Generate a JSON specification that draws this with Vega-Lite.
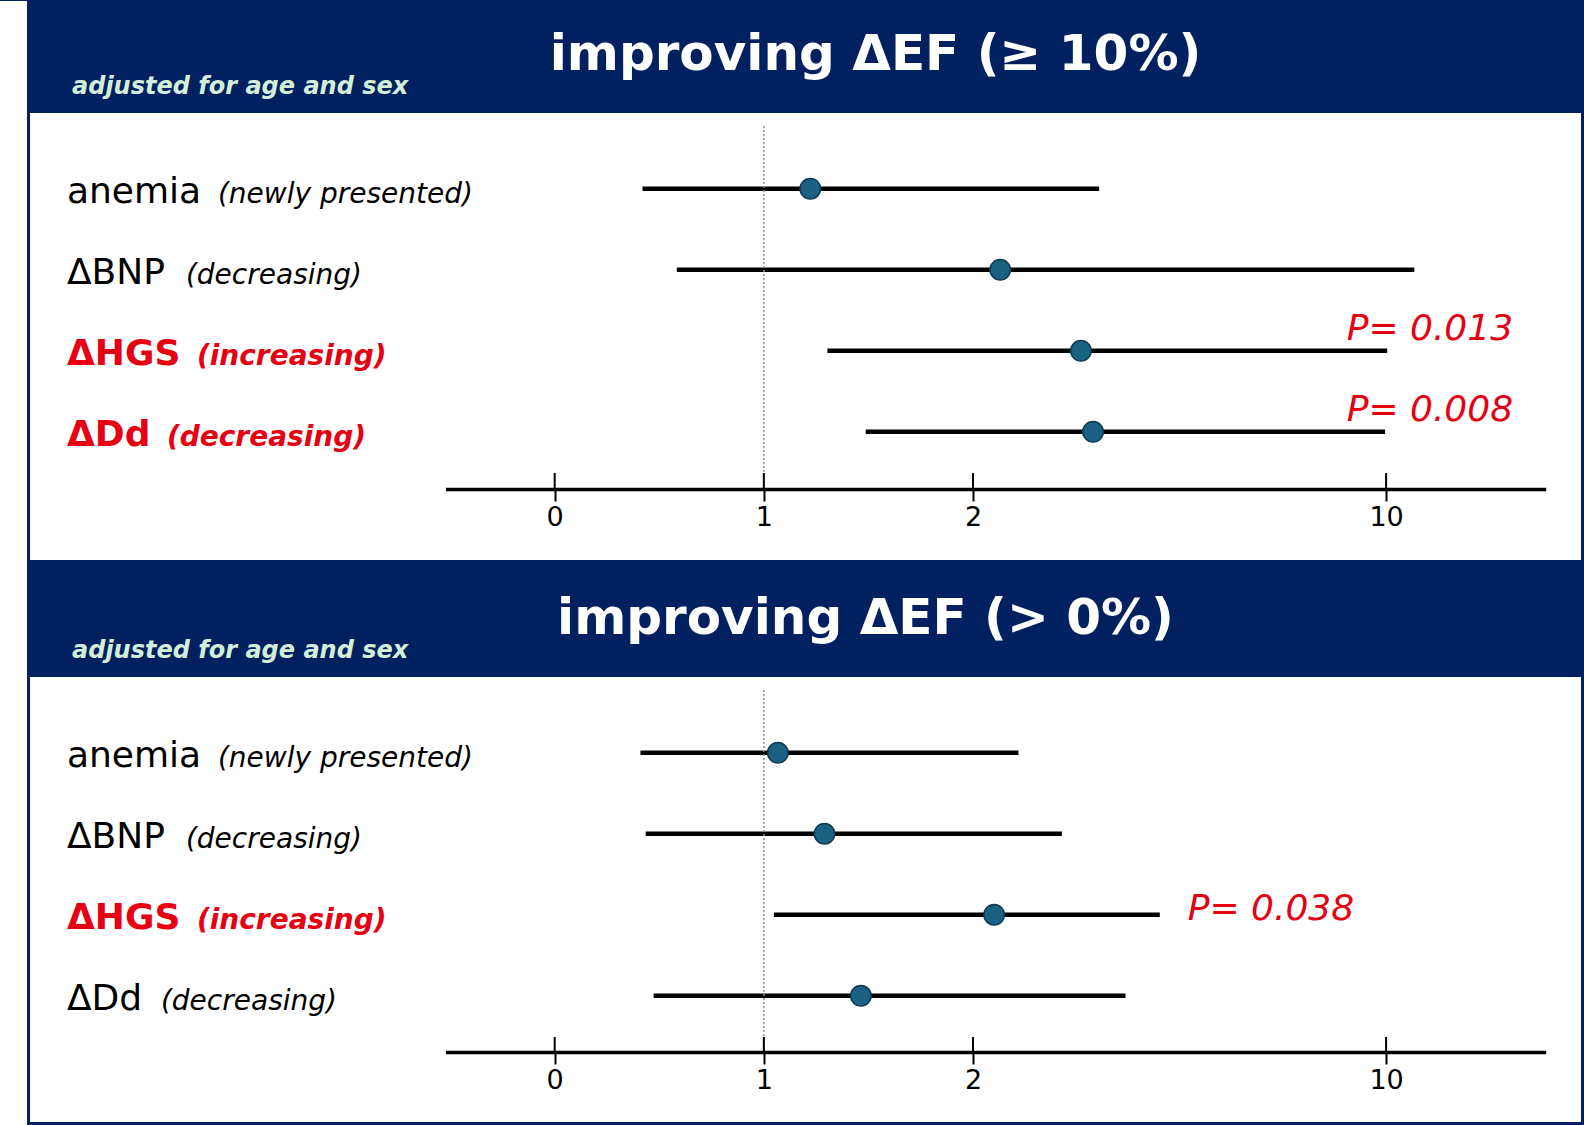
{
  "$schema": "https://vega.github.io/schema/vega-lite/v6.json",
  "background": "#002060",
  "padding": {"left": 0, "top": 0, "right": 3, "bottom": 0},
  "config": {
    "view": {"fill": "white", "stroke": null},
    "font": "DejaVu Sans",
    "axisX": {"grid": false, "domainColor": "black", "domainWidth": 3.5, "tickColor": "black", "tickWidth": 2, "tickSize": 12, "labelFontSize": 27, "labelColor": "black", "labelFont": "DejaVu Sans", "labelPadding": 3, "labelFlush": false, "labelOverlap": false, "title": null}
  },
  "datasets": {
    "d1": [
      {"name": "anemia", "note": "(newly presented)", "row": 1, "lo": 0.420, "or": 1.222, "hi": 2.603, "sig": false, "pLabel": null},
      {"name": "ΔBNP", "note": "(decreasing)", "row": 2, "lo": 0.584, "or": 2.130, "hi": 4.110, "sig": false, "pLabel": null},
      {"name": "ΔHGS", "note": "(increasing)", "row": 3, "lo": 1.304, "or": 2.516, "hi": 3.980, "sig": true, "pLabel": "P= 0.013"},
      {"name": "ΔDd", "note": "(decreasing)", "row": 4, "lo": 1.487, "or": 2.574, "hi": 3.970, "sig": true, "pLabel": "P= 0.008"}
    ],
    "d2": [
      {"name": "anemia", "note": "(newly presented)", "row": 1, "lo": 0.410, "or": 1.067, "hi": 2.217, "sig": false, "pLabel": null},
      {"name": "ΔBNP", "note": "(decreasing)", "row": 2, "lo": 0.435, "or": 1.290, "hi": 2.425, "sig": false, "pLabel": null},
      {"name": "ΔHGS", "note": "(increasing)", "row": 3, "lo": 1.048, "or": 2.101, "hi": 2.893, "sig": true, "pLabel": "P= 0.038"},
      {"name": "ΔDd", "note": "(decreasing)", "row": 4, "lo": 0.473, "or": 1.464, "hi": 2.729, "sig": false, "pLabel": null}
    ]
  },
  "spacing": 3,
  "hconcat": [
    {
      "width": 27, "height": 1013,
      "view": {"fill": "white", "stroke": null},
      "data": {"values": [{"strip": "margin"}]},
      "mark": {"type": "rect", "color": "white", "clip": false},
      "encoding": {
        "y": {"datum": 0, "type": "quantitative", "scale": {"domain": [0, 1], "nice": false, "zero": false}, "axis": null},
        "y2": {"datum": 1.1106}
      }
    },
    {
      "spacing": 4,
      "vconcat": [
        {
          "title": {"text": ["", "improving ΔEF (≥ 10%)"], "fontSize": 50, "fontWeight": "bold", "color": "white", "font": "DejaVu Sans", "anchor": "middle", "dx": 70, "offset": -45, "lineHeight": 30, "baseline": "alphabetic"},
          "vconcat": [
            {
              "title": {"text": "adjusted for age and sex", "fontSize": 24, "fontWeight": "bold", "fontStyle": "italic", "color": "#d4efd9", "font": "DejaVu Sans", "anchor": "start", "dx": 42, "offset": -5, "baseline": "alphabetic"},
              "width": 1551,
              "height": 447,
              "data": {"name": "d1"},
              "layer": [
                {
                  "mark": {"type": "rule", "color": "black", "strokeWidth": 4.5},
                  "encoding": {
                    "x": {"field": "lo", "type": "quantitative", "title": null,
                      "scale": {"domain": [-0.522, 4.738], "range": [415.5, 1515.7], "nice": false, "zero": false},
                      "axis": {"orient": "bottom", "offset": -71, "values": [0, 1, 2, 3.975], "labelExpr": "datum.value > 3 ? '10' : format(datum.value, 'd')", "title": null}},
                    "x2": {"field": "hi"},
                    "y": {"field": "row", "type": "quantitative", "scale": {"domain": [0.0658, 5.582], "reverse": true, "nice": false, "zero": false}, "axis": null}
                  }
                },
                {
                  "data": {"values": [{"ref": 1}]},
                  "mark": {"type": "rule", "color": "#8c8c8c", "strokeWidth": 1.5, "strokeDash": [2, 2]},
                  "encoding": {
                    "x": {"field": "ref", "type": "quantitative", "title": null},
                    "y": {"datum": 0.226, "type": "quantitative", "axis": null},
                    "y2": {"datum": 4.706}
                  }
                },
                {
                  "data": {"values": [{"t": 0}, {"t": 1}, {"t": 2}, {"t": 3.975}]},
                  "mark": {"type": "rule", "color": "black", "strokeWidth": 2},
                  "encoding": {
                    "x": {"field": "t", "type": "quantitative", "title": null},
                    "y": {"datum": 4.509, "type": "quantitative", "axis": null},
                    "y2": {"datum": 4.706}
                  }
                },
                {
                  "mark": {"type": "circle", "size": 420, "fill": "#1b6183", "stroke": "#0e3a52", "strokeWidth": 1.5, "opacity": 1},
                  "encoding": {
                    "x": {"field": "or", "type": "quantitative", "title": null},
                    "y": {"field": "row", "type": "quantitative", "axis": null}
                  }
                },
                {
                  "mark": {"type": "text", "align": "left", "baseline": "alphabetic", "dy": 14, "fontSize": 36, "font": "DejaVu Sans", "fontWeight": {"expr": "datum.sig ? 'bold' : 'normal'"}},
                  "encoding": {
                    "x": {"datum": -2.332, "type": "quantitative"},
                    "y": {"field": "row", "type": "quantitative", "axis": null},
                    "text": {"field": "name"},
                    "color": {"condition": {"test": "datum.sig", "value": "#e60012"}, "value": "black"}
                  }
                },
                {
                  "mark": {"type": "text", "align": "left", "baseline": "alphabetic", "dy": 14, "fontSize": 28, "fontStyle": "italic", "font": "DejaVu Sans",
                    "fontWeight": {"expr": "datum.sig ? 'bold' : 'normal'"},
                    "dx": {"expr": "datum.name == 'anemia' ? 151 : datum.name == 'ΔBNP' ? 119 : datum.name == 'ΔHGS' ? 130 : (datum.sig ? 100 : 94)"}},
                  "encoding": {
                    "x": {"datum": -2.332, "type": "quantitative"},
                    "y": {"field": "row", "type": "quantitative", "axis": null},
                    "text": {"field": "note"},
                    "color": {"condition": {"test": "datum.sig", "value": "#e60012"}, "value": "black"}
                  }
                },
                {
                  "transform": [{"filter": "datum.pLabel != null"}],
                  "mark": {"type": "text", "align": "right", "baseline": "alphabetic", "dy": -11, "fontSize": 36, "fontStyle": "italic", "font": "DejaVu Sans", "color": "#e60012"},
                  "encoding": {
                    "x": {"datum": 4.582, "type": "quantitative"},
                    "y": {"field": "row", "type": "quantitative", "axis": null},
                    "text": {"field": "pLabel"}
                  }
                }
              ]
            }
          ]
        },
        {
          "title": {"text": ["", "improving ΔEF (> 0%)"], "fontSize": 50, "fontWeight": "bold", "color": "white", "font": "DejaVu Sans", "anchor": "middle", "dx": 60, "offset": -45, "lineHeight": 30, "baseline": "alphabetic"},
          "vconcat": [
            {
              "title": {"text": "adjusted for age and sex", "fontSize": 24, "fontWeight": "bold", "fontStyle": "italic", "color": "#d4efd9", "font": "DejaVu Sans", "anchor": "start", "dx": 42, "offset": -5, "baseline": "alphabetic"},
              "width": 1551,
              "height": 445,
              "data": {"name": "d2"},
              "layer": [
                {
                  "mark": {"type": "rule", "color": "black", "strokeWidth": 4.5},
                  "encoding": {
                    "x": {"field": "lo", "type": "quantitative", "title": null,
                      "scale": {"domain": [-0.522, 4.738], "range": [415.5, 1515.7], "nice": false, "zero": false},
                      "axis": {"orient": "bottom", "offset": -70, "values": [0, 1, 2, 3.975], "labelExpr": "datum.value > 3 ? '10' : format(datum.value, 'd')", "title": null}},
                    "x2": {"field": "hi"},
                    "y": {"field": "row", "type": "quantitative", "scale": {"domain": [0.0658, 5.558], "reverse": true, "nice": false, "zero": false}, "axis": null}
                  }
                },
                {
                  "data": {"values": [{"ref": 1}]},
                  "mark": {"type": "rule", "color": "#8c8c8c", "strokeWidth": 1.5, "strokeDash": [2, 2]},
                  "encoding": {
                    "x": {"field": "ref", "type": "quantitative", "title": null},
                    "y": {"datum": 0.226, "type": "quantitative", "axis": null},
                    "y2": {"datum": 4.706}
                  }
                },
                {
                  "data": {"values": [{"t": 0}, {"t": 1}, {"t": 2}, {"t": 3.975}]},
                  "mark": {"type": "rule", "color": "black", "strokeWidth": 2},
                  "encoding": {
                    "x": {"field": "t", "type": "quantitative", "title": null},
                    "y": {"datum": 4.509, "type": "quantitative", "axis": null},
                    "y2": {"datum": 4.706}
                  }
                },
                {
                  "mark": {"type": "circle", "size": 420, "fill": "#1b6183", "stroke": "#0e3a52", "strokeWidth": 1.5, "opacity": 1},
                  "encoding": {
                    "x": {"field": "or", "type": "quantitative", "title": null},
                    "y": {"field": "row", "type": "quantitative", "axis": null}
                  }
                },
                {
                  "mark": {"type": "text", "align": "left", "baseline": "alphabetic", "dy": 14, "fontSize": 36, "font": "DejaVu Sans", "fontWeight": {"expr": "datum.sig ? 'bold' : 'normal'"}},
                  "encoding": {
                    "x": {"datum": -2.332, "type": "quantitative"},
                    "y": {"field": "row", "type": "quantitative", "axis": null},
                    "text": {"field": "name"},
                    "color": {"condition": {"test": "datum.sig", "value": "#e60012"}, "value": "black"}
                  }
                },
                {
                  "mark": {"type": "text", "align": "left", "baseline": "alphabetic", "dy": 14, "fontSize": 28, "fontStyle": "italic", "font": "DejaVu Sans",
                    "fontWeight": {"expr": "datum.sig ? 'bold' : 'normal'"},
                    "dx": {"expr": "datum.name == 'anemia' ? 151 : datum.name == 'ΔBNP' ? 119 : datum.name == 'ΔHGS' ? 130 : (datum.sig ? 100 : 94)"}},
                  "encoding": {
                    "x": {"datum": -2.332, "type": "quantitative"},
                    "y": {"field": "row", "type": "quantitative", "axis": null},
                    "text": {"field": "note"},
                    "color": {"condition": {"test": "datum.sig", "value": "#e60012"}, "value": "black"}
                  }
                },
                {
                  "transform": [{"filter": "datum.pLabel != null"}],
                  "mark": {"type": "text", "align": "left", "baseline": "alphabetic", "dx": 28, "dy": 5, "fontSize": 36, "fontStyle": "italic", "font": "DejaVu Sans", "color": "#e60012"},
                  "encoding": {
                    "x": {"field": "hi", "type": "quantitative", "title": null},
                    "y": {"field": "row", "type": "quantitative", "axis": null},
                    "text": {"field": "pLabel"}
                  }
                }
              ]
            }
          ]
        }
      ]
    }
  ]
}
